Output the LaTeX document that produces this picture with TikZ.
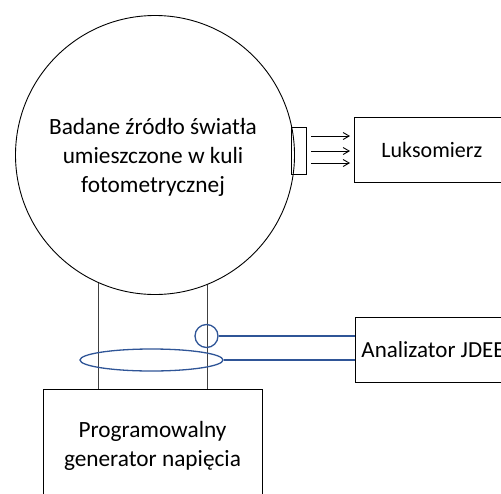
\documentclass[tikz,border=0pt]{standalone}
\usepackage{fontspec}
\setmainfont{Carlito}
\usetikzlibrary{arrows.meta,positioning,shapes.geometric}

\definecolor{przewod}{RGB}{47,85,151}

\begin{document}
\begin{tikzpicture}[x=1pt,y=-1pt,font=\fontsize{23.3}{29}\selectfont,line width=0.9pt]
\useasboundingbox (0,0) rectangle (501,493);
\clip (0,0) rectangle (501,493);
% kula fotometryczna z okienkiem
\node[draw,circle,minimum size=279pt,inner sep=0pt] (kula) at (155,155) {};
\node[align=center] (opis) at (153,157) {Badane źródło światła\\umieszczone w kuli\\fotometrycznej};
\node[draw,minimum width=15pt,minimum height=47pt,inner sep=0pt] (okno) at (298.5,150.5) {};
\node[draw,anchor=west,minimum height=65pt,inner xsep=27pt,font=\fontsize{22}{29}\selectfont] (luks) at (354,149.5) {Luksomierz};
\foreach \dy in {14.5,-0.5,-12.5}
 {\draw[-{Straight Barb[length=6pt,width=7pt]},shorten <=5pt,shorten >=4pt]
   ([yshift=\dy pt]okno.east) -- ([yshift=\dy pt]okno.east -| luks.west);}
% zasilanie
\node[draw,minimum width=219pt,minimum height=114pt,align=center] (gen) at (152.5,446) {Programowalny\\generator napięcia};
\foreach \kat in {-114.5,-68.2}
 {\draw[black!75] (kula.\kat) -- (kula.\kat |- gen.north);}
% pomiar napiecia i pradu
\node[draw=przewod,line width=1.3pt,circle,minimum size=23pt,inner sep=0pt] (petla) at (206.5,336) {};
\node[draw=przewod,line width=1.3pt,ellipse,minimum width=143pt,minimum height=22pt,inner sep=0pt] (cewka) at (151.5,360) {};
\node[draw,anchor=west,minimum height=65pt,inner xsep=6pt,font=\fontsize{23}{29}\selectfont] (analizator) at (355,349.5) {Analizator JDEE};
\draw[przewod,line width=1.3pt] (petla.east) -- (petla.east -| analizator.west);
\draw[przewod,line width=1.3pt] (cewka.east) -- (cewka.east -| analizator.west);
\end{tikzpicture}
\end{document}
